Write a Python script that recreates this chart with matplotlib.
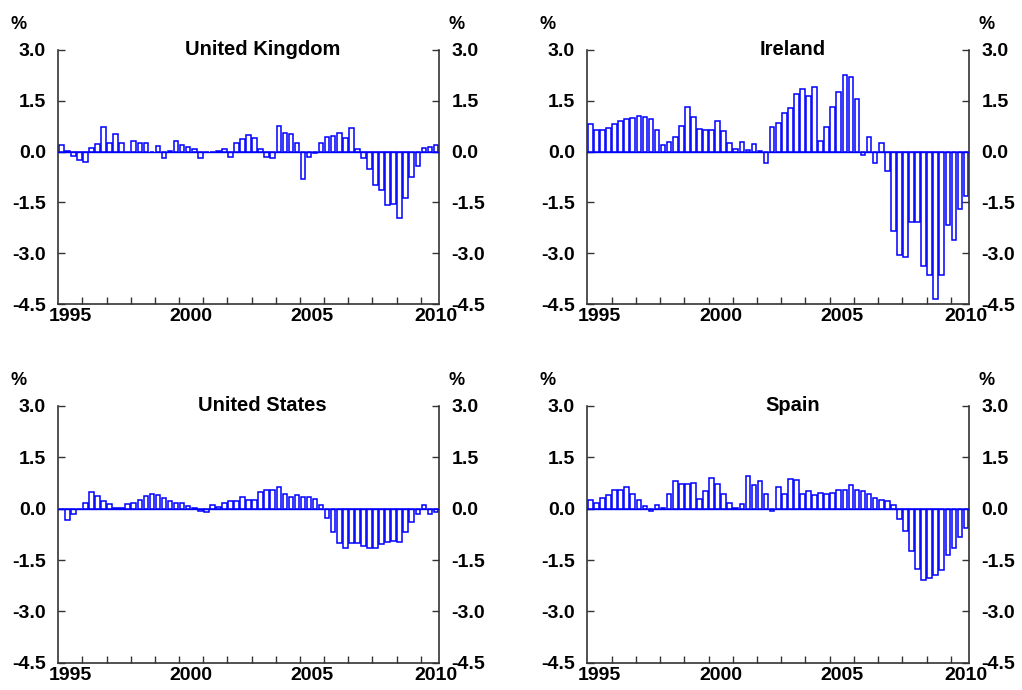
import numpy as np
import matplotlib.pyplot as plt

# ---------------------------------------------------------
# Data: quarterly % change, 1995 Q1 to 2010 Q3
# ---------------------------------------------------------
uk = [0.2, 0.03, -0.12, -0.26, -0.31, 0.11, 0.22, 0.73, 0.25, 0.51, 0.25, 0.0,
      0.32, 0.25, 0.25, 0.0, 0.17, -0.19, 0.01, 0.32, 0.19, 0.13, 0.07, -0.19,
      -0.01, 0.0, 0.01, 0.06, -0.15, 0.25, 0.36, 0.49, 0.41, 0.08, -0.17, -0.2,
      0.76, 0.55, 0.51, 0.25, -0.8, -0.16, -0.04, 0.25, 0.43, 0.45, 0.55, 0.41,
      0.7, 0.07, -0.18, -0.52, -0.99, -1.14, -1.57, -1.55, -1.95, -1.36, -0.75,
      -0.44, 0.09, 0.13, 0.19]

ireland = [0.81, 0.64, 0.62, 0.68, 0.81, 0.91, 0.95, 0.99, 1.05, 1.01, 0.96, 0.64,
           0.2, 0.27, 0.43, 0.75, 1.3, 1.02, 0.67, 0.64, 0.64, 0.91, 0.61, 0.26,
           0.08, 0.28, 0.04, 0.21, 0.02, -0.33, 0.72, 0.85, 1.14, 1.28, 1.68, 1.84,
           1.64, 1.9, 0.32, 0.72, 1.3, 1.74, 2.26, 2.19, 1.54, -0.1, 0.43, -0.34,
           0.26, -0.56, -2.34, -3.05, -3.12, -2.09, -2.08, -3.38, -3.63, -4.34,
           -3.64, -2.16, -2.6, -1.7, -1.32]

us = [-0.02, -0.33, -0.17, 0.0, 0.18, 0.5, 0.37, 0.22, 0.13, 0.01, 0.03, 0.13,
      0.18, 0.26, 0.37, 0.42, 0.39, 0.31, 0.21, 0.17, 0.17, 0.09, 0.01, -0.08,
      -0.11, 0.1, 0.06, 0.17, 0.22, 0.22, 0.33, 0.25, 0.25, 0.49, 0.55, 0.55,
      0.64, 0.44, 0.34, 0.4, 0.34, 0.34, 0.29, 0.11, -0.28, -0.67, -0.99, -1.14,
      -1.01, -1.01, -1.09, -1.16, -1.14, -1.03, -0.96, -0.94, -0.96, -0.69,
      -0.38, -0.17, 0.11, -0.15, -0.09]

spain = [0.24, 0.18, 0.32, 0.41, 0.55, 0.54, 0.63, 0.43, 0.24, 0.09, -0.07, 0.11,
         0.01, 0.44, 0.8, 0.73, 0.73, 0.74, 0.27, 0.51, 0.9, 0.73, 0.44, 0.18,
         0.02, 0.13, 0.94, 0.7, 0.81, 0.43, -0.06, 0.62, 0.44, 0.86, 0.84, 0.42,
         0.51, 0.4, 0.47, 0.44, 0.47, 0.55, 0.54, 0.68, 0.55, 0.51, 0.43, 0.31,
         0.26, 0.22, 0.11, -0.31, -0.66, -1.25, -1.75, -2.07, -2.03, -1.95, -1.8,
         -1.36, -1.16, -0.84, -0.56]

titles = ['United Kingdom', 'Ireland', 'United States', 'Spain']
series = [uk, ireland, us, spain]

yticks = [-4.5, -3.0, -1.5, 0.0, 1.5, 3.0]
ytick_labels = ['-4.5', '-3.0', '-1.5', '0.0', '1.5', '3.0']
year_labels = ['1995', '2000', '2005', '2010']

plt.rcParams['font.family'] = ['Liberation Sans', 'DejaVu Sans']
plt.rcParams['font.weight'] = 'bold'
plt.rcParams['font.size'] = 14

fig = plt.figure(figsize=(10.22, 6.9), dpi=100)

# axes boxes in figure fractions (left, bottom, width, height)
boxes = [(0.0570, 0.5590, 0.3725, 0.3690),
         (0.5747, 0.5590, 0.3735, 0.3690),
         (0.0570, 0.0396, 0.3725, 0.3720),
         (0.5747, 0.0396, 0.3735, 0.3720)]

for box, title, vals in zip(boxes, titles, series):
    ax = fig.add_axes(box)
    vals = np.array(vals)
    x = 1995 + np.arange(len(vals)) / 4 + 0.125
    ax.bar(x, vals, width=0.19, facecolor='white', edgecolor='#0000ff',
           linewidth=1.1, zorder=2)
    ax.axhline(0, color='#0000ff', linewidth=1.0, zorder=3)

    ax.set_xlim(1995, 1995 + len(vals) / 4)
    ax.set_ylim(-4.5, 3.0)

    ax.spines['top'].set_visible(False)
    for s in ['left', 'right', 'bottom']:
        ax.spines[s].set_color('#333333')
        ax.spines[s].set_linewidth(1.2)

    # year boundary ticks, labels centred on the year
    ax.set_xticks(np.arange(1996, 2011))
    ax.set_xticklabels([])
    ax.tick_params(axis='x', which='major', direction='in', length=5,
                   width=1, color='#333333')
    ax.set_xticks([1995.5, 2000.5, 2005.5, 2010.62], minor=True)
    ax.set_xticklabels(year_labels, minor=True)
    ax.tick_params(axis='x', which='minor', length=0, pad=3, labelsize=14)

    ax.set_yticks(yticks)
    ax.set_yticklabels(ytick_labels)
    ax.tick_params(axis='y', direction='in', length=5, width=1,
                   color='#333333', left=True, right=True,
                   labelleft=True, labelright=True, pad=9, labelsize=14)

    ax.text(0.537, 1.0, title, transform=ax.transAxes, ha='center',
            va='center', fontsize=14.5, fontweight='bold')
    ax.text(-0.105, 1.1, '%', transform=ax.transAxes, ha='center',
            va='center', fontsize=13, fontweight='bold')
    ax.text(1.045, 1.1, '%', transform=ax.transAxes, ha='center',
            va='center', fontsize=13, fontweight='bold')

fig.savefig('out.png', dpi=100)
